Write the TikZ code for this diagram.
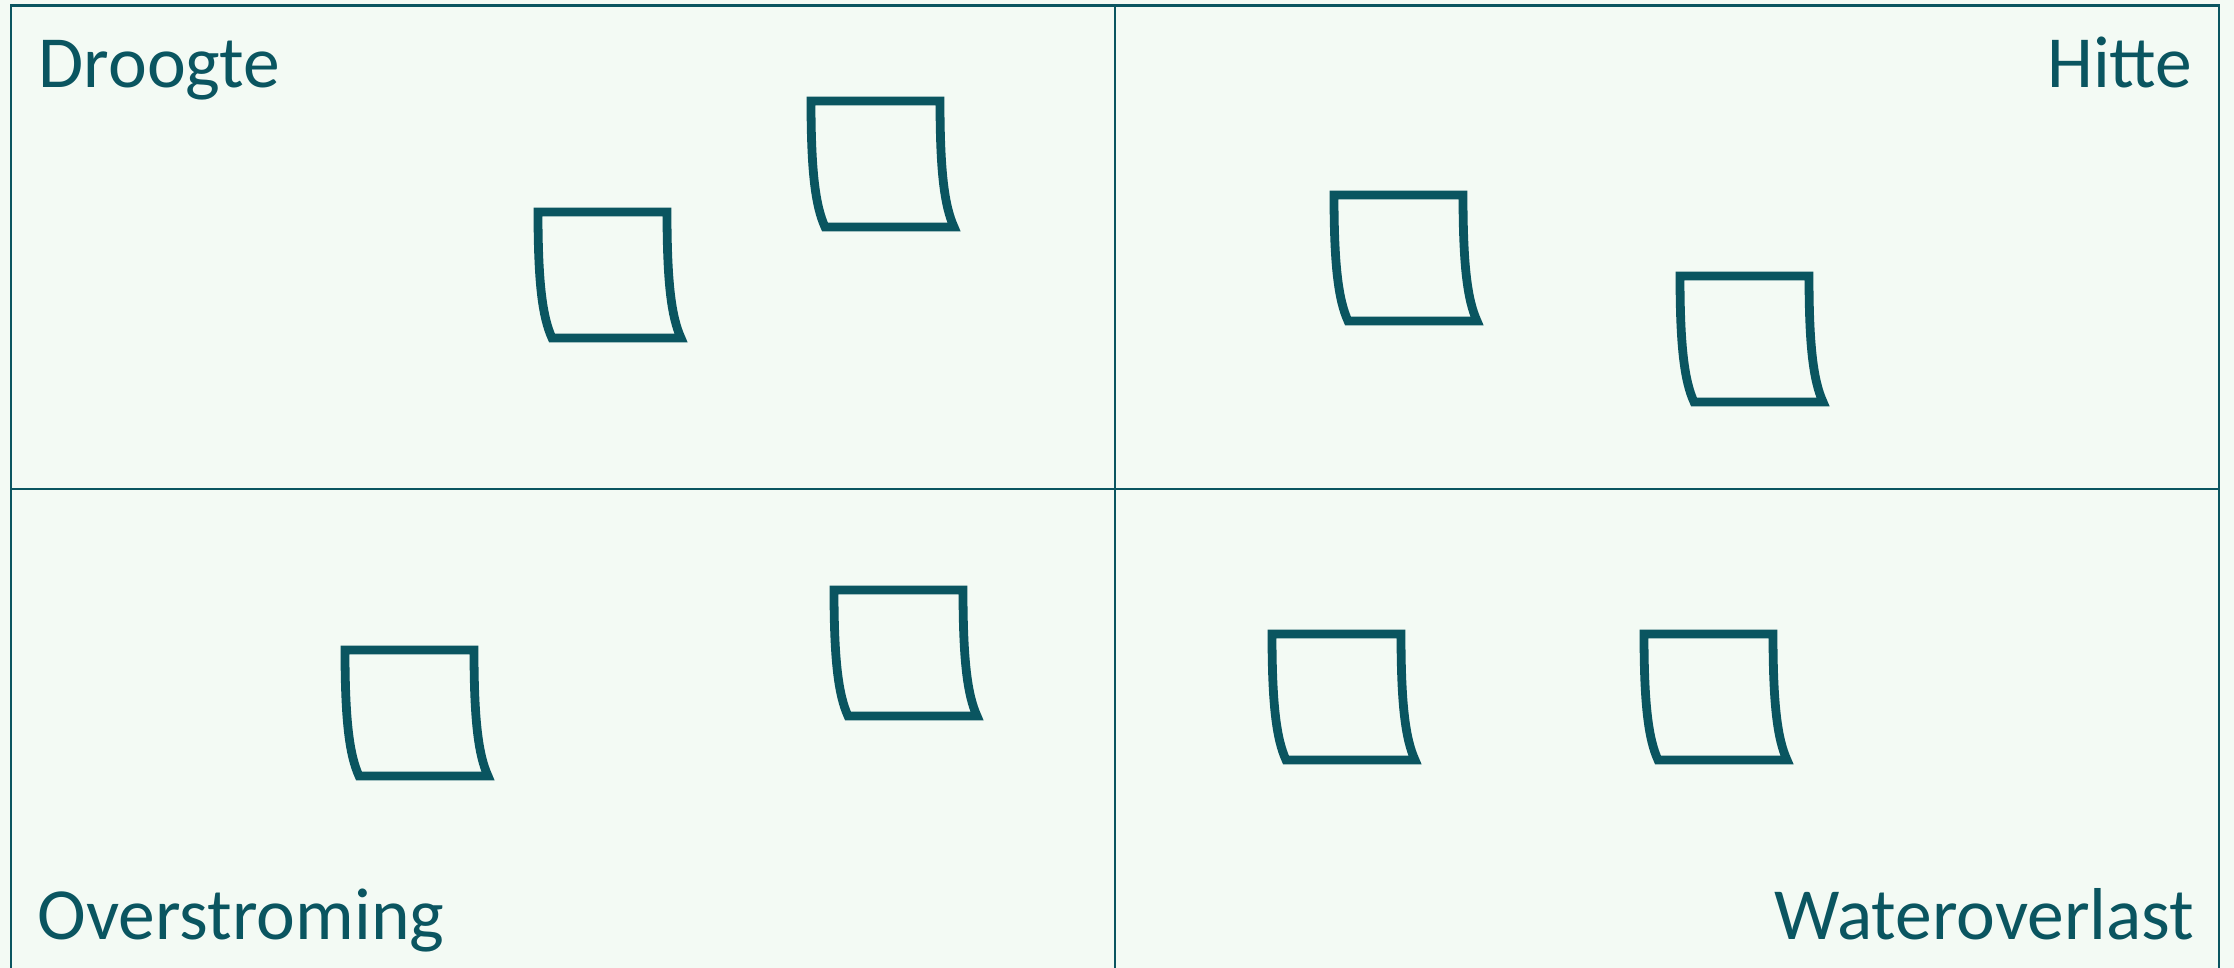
\documentclass[tikz,border=0pt]{standalone}
\usepackage{fontspec}
\setmainfont{Carlito}
\definecolor{bgmint}{HTML}{F3FAF4}
\definecolor{tealline}{HTML}{0A5560}
\tikzset{
  gridline/.style={draw=tealline, line width=0.65pt},
  notestroke/.style={draw=tealline, line width=2.5pt, line join=miter},
  quadlabel/.style={text=tealline, inner sep=0pt, font=\fontsize{20.9pt}{25pt}\selectfont},
  pics/stickynote/.style args={#1/#2/#3}{code={
    \draw[notestroke] (0,0) -- (#1,0)
      .. controls (#1,0.55*#2) and (#1+0.3*#3,0.83*#2) .. (#1+#3,#2)
      -- (#3,#2)
      .. controls (0.3*#3,0.83*#2) and (0,0.55*#2) .. (0,0) -- cycle;
  }}
}
\begin{document}
\begin{tikzpicture}[x=0.01cm,y=-0.01cm]
  \fill[bgmint] (0,0) rectangle (2234,968);
  \useasboundingbox (0,0) rectangle (2234,968);
  % frame and dividers
  \draw[gridline] (10.8,968) -- (10.8,5.5) -- (2218.7,5.5) -- (2218.7,968);
  \draw[gridline] (1115,5.5) -- (1115,968);
  \draw[gridline] (10.8,488.7) -- (2218.7,488.7);
  % labels
  \node[quadlabel, anchor=base west] (droogte) at (38,88) {Droogte};
  \node[quadlabel, anchor=base east] (hitte) at (2193,88) {Hitte};
  \node[quadlabel, anchor=base west] (overstroming) at (37,940) {Overstroming};
  \node[quadlabel, anchor=base east] (wateroverlast) at (2195,940) {Wateroverlast};
  % notes
  \pic at (811,101) {stickynote={129/126/14}};
  \pic at (538,212) {stickynote={129/126/14}};
  \pic at (1334,195) {stickynote={129/126/14}};
  \pic at (1680,276) {stickynote={129/126/14}};
  \pic at (345,650) {stickynote={129/126/14}};
  \pic at (834,590) {stickynote={129/126/14}};
  \pic at (1272,634) {stickynote={129/126/14}};
  \pic at (1644,634) {stickynote={129/126/14}};
\end{tikzpicture}
\end{document}
